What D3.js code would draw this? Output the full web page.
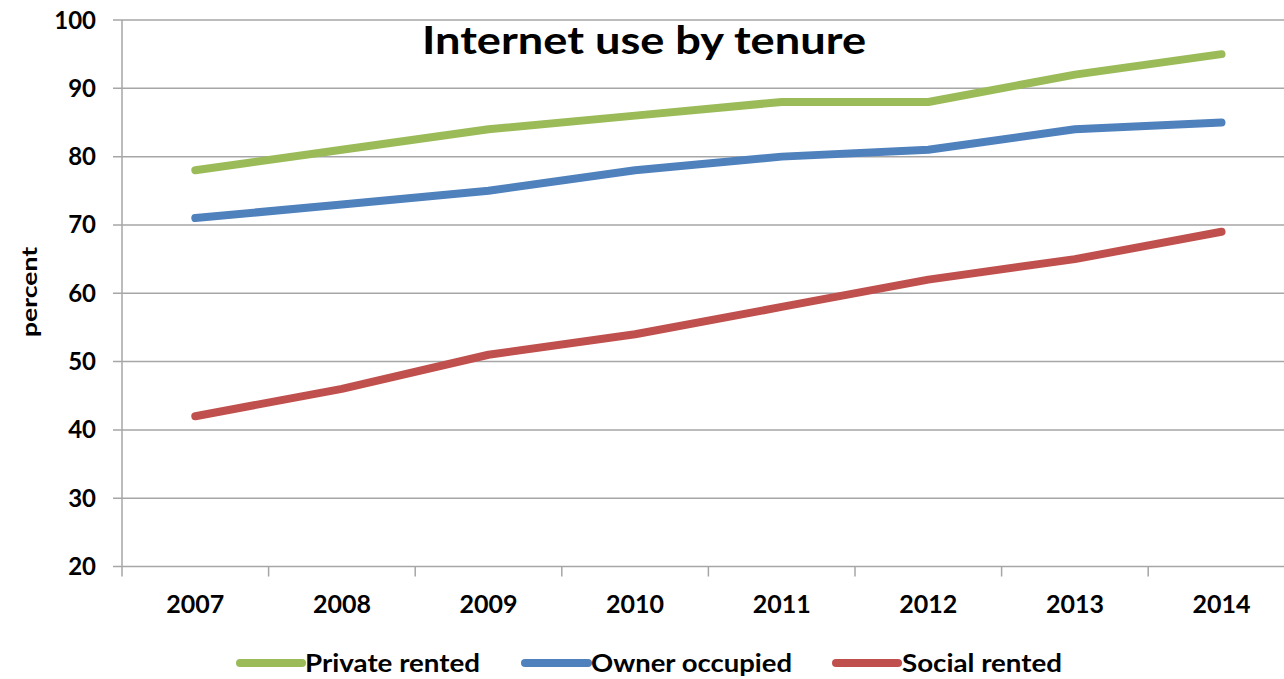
<!DOCTYPE html>
<html><head><meta charset="utf-8">
<script src="https://cdn.jsdelivr.net/npm/d3@7"></script>
<style>body{margin:0;background:#fff;}svg{display:block;}</style>
</head><body>
<svg id="c" width="1284" height="679"></svg>
<script>
const years = ["2007","2008","2009","2010","2011","2012","2013","2014"];
const privateRented = [78, 81, 84, 86, 88, 88, 92, 95];
const ownerOccupied = [71, 73, 75, 78, 80, 81, 84, 85];
const socialRented = [42, 46, 51, 54, 58, 62, 65, 69];
const seriesNames = ["Private rented", "Owner occupied", "Social rented"];
const seriesColors = ["#9BBB59", "#4F81BD", "#C0504D"];
const yTicks = [20, 30, 40, 50, 60, 70, 80, 90, 100];
const titleText = "Internet use by tenure";
const yLabel = "percent";

(function () {
const svg = d3.select("#c");
const font = "Lato, 'Open Sans', sans-serif";
const pLeft = 122, pTop = 20, pBottom = 566.5, pRight = 122 + 8 * 146.6;

const x = d3.scaleBand().domain(years).range([pLeft, pRight]);
const y = d3.scaleLinear().domain([20, 100]).range([pBottom, pTop]);

// gridlines
svg.append("g").selectAll("line").data(yTicks).join("line")
  .attr("x1", 113).attr("x2", 1284)
  .attr("y1", d => y(d)).attr("y2", d => y(d))
  .attr("stroke", "#a6a6a6").attr("stroke-width", 1.5);

// y axis line
svg.append("line").attr("x1", pLeft).attr("x2", pLeft).attr("y1", pTop).attr("y2", pBottom + 10)
  .attr("stroke", "#a6a6a6").attr("stroke-width", 1.5);

// x ticks at band boundaries
const bounds = years.slice(1).map(d => x(d));
svg.append("g").selectAll("line").data(bounds).join("line")
  .attr("x1", d => d).attr("x2", d => d).attr("y1", pBottom).attr("y2", pBottom + 10)
  .attr("stroke", "#a6a6a6").attr("stroke-width", 1.5);

// y tick labels
svg.append("g").selectAll("text").data(yTicks).join("text")
  .attr("x", 96).attr("y", d => y(d) + 8.5)
  .attr("text-anchor", "end")
  .attr("font-family", font).attr("font-weight", "bold").attr("font-size", 24)
  .attr("fill", "#000").text(d => d);

// x tick labels
svg.append("g").selectAll("text").data(years).join("text")
  .attr("x", d => x(d) + x.bandwidth() / 2).attr("y", 613)
  .attr("text-anchor", "middle")
  .attr("font-family", font).attr("font-weight", "bold").attr("font-size", 25)
  .attr("fill", "#000").text(d => d);

// y label
svg.append("text")
  .attr("transform", "translate(37,292) rotate(-90)")
  .attr("text-anchor", "middle")
  .attr("font-family", font).attr("font-weight", "bold").attr("font-size", 21)
  .attr("textLength", 90).attr("lengthAdjust", "spacingAndGlyphs")
  .text(yLabel);

// title
svg.append("text")
  .attr("x", 422).attr("y", 54)
  .attr("font-family", font).attr("font-weight", "bold").attr("font-size", 39)
  .attr("textLength", 444).attr("lengthAdjust", "spacingAndGlyphs")
  .text(titleText);

// lines
const data = [privateRented, ownerOccupied, socialRented];
const line = d3.line().x((d, i) => x(years[i]) + x.bandwidth() / 2).y(d => y(d));
svg.append("g").selectAll("path").data(data).join("path")
  .attr("d", line)
  .attr("fill", "none")
  .attr("stroke", (d, i) => seriesColors[i])
  .attr("stroke-width", 8)
  .attr("stroke-linecap", "round")
  .attr("stroke-linejoin", "round");

// legend
const legendItems = [
  {lx1: 240, lx2: 302, tx: 305, tw: 175},
  {lx1: 525, lx2: 588, tx: 591, tw: 201},
  {lx1: 836, lx2: 898, tx: 902, tw: 160}
];
const lg = svg.append("g");
legendItems.forEach((it, i) => {
  lg.append("line").attr("x1", it.lx1).attr("x2", it.lx2).attr("y1", 663).attr("y2", 663)
    .attr("stroke", seriesColors[i]).attr("stroke-width", 8).attr("stroke-linecap", "round");
  lg.append("text").attr("x", it.tx).attr("y", 672)
    .attr("font-family", font).attr("font-weight", "bold").attr("font-size", 25)
    .attr("textLength", it.tw).attr("lengthAdjust", "spacingAndGlyphs")
    .text(seriesNames[i]);
});
})();
</script>
</body></html>
